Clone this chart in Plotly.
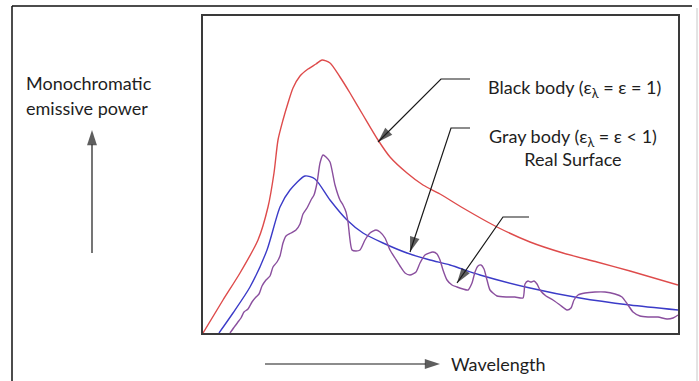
import plotly.graph_objects as go

# ---- spectral curves (wavelength in µm, emissive power in arbitrary units) ----
black_wl = [0, 0.40, 0.74, 1.10, 1.30, 1.42, 1.50, 1.60, 1.70, 1.80, 1.94, 2.10, 2.26, 2.38,
            2.54, 2.74, 2.94, 3.20, 3.50, 3.74, 4.08, 4.40, 4.74, 5.20, 5.88, 6.54, 7.20,
            7.88, 8.54, 9.50]
black_pw = [0, 0.66, 1.20, 1.86, 2.52, 3.20, 3.86, 4.26, 4.60, 4.90, 5.14, 5.28, 5.38, 5.46,
            5.40, 5.12, 4.80, 4.36, 3.86, 3.52, 3.20, 2.96, 2.78, 2.50, 2.12, 1.82, 1.60,
            1.42, 1.24, 0.96]

gray_wl = [0.32, 0.60, 0.94, 1.28, 1.54, 1.74, 2.04, 2.24, 2.54, 2.88, 3.20, 3.60, 4.08,
           4.54, 4.94, 5.54, 6.54, 7.54, 8.54, 9.50]
gray_pw = [0, 0.40, 0.92, 1.66, 2.52, 2.86, 3.14, 3.08, 2.66, 2.26, 2.00, 1.80, 1.60,
           1.46, 1.36, 1.16, 0.90, 0.70, 0.56, 0.46]

real_wl = [0.54, 0.64, 0.70, 0.76, 0.82, 0.90, 0.98, 1.06, 1.12, 1.18, 1.26, 1.34, 1.40,
           1.48, 1.54, 1.60, 1.66, 1.76, 1.86, 1.94, 2.00, 2.08, 2.16, 2.22, 2.28, 2.34,
           2.40, 2.46, 2.54, 2.64, 2.74, 2.80, 2.86, 2.90, 2.98, 3.06, 3.14, 3.24, 3.34,
           3.46, 3.54, 3.64, 3.74, 3.84, 3.94, 4.04, 4.14, 4.26, 4.34, 4.44, 4.60, 4.68,
           4.74, 4.80, 4.88, 4.98, 5.08, 5.20, 5.30, 5.38, 5.44, 5.50, 5.56, 5.62, 5.68,
           5.74, 5.88, 6.08, 6.24, 6.40, 6.44, 6.50, 6.56, 6.62, 6.68, 6.74, 6.86, 7.00,
           7.14, 7.28, 7.36, 7.42, 7.50, 7.64, 7.84, 8.04, 8.24, 8.38, 8.50, 8.60, 8.74,
           8.90, 9.10, 9.28, 9.40, 9.50]
real_pw = [0, 0.14, 0.22, 0.30, 0.42, 0.48, 0.62, 0.72, 0.78, 0.94, 1.06, 1.14, 1.32,
           1.42, 1.54, 1.80, 1.94, 2.00, 2.06, 2.18, 2.38, 2.50, 2.66, 2.76, 3.00, 3.40,
           3.56, 3.52, 3.42, 2.96, 2.66, 2.56, 2.42, 2.22, 1.66, 1.64, 1.66, 1.86, 2.00,
           2.06, 2.02, 1.90, 1.66, 1.50, 1.34, 1.20, 1.16, 1.22, 1.40, 1.56, 1.62, 1.58,
           1.46, 1.26, 1.06, 0.96, 0.92, 0.88, 0.86, 1.00, 1.22, 1.34, 1.36, 1.28, 1.06,
           0.86, 0.74, 0.72, 0.72, 0.70, 0.98, 1.04, 1.02, 1.04, 0.98, 0.86, 0.74, 0.66,
           0.56, 0.46, 0.50, 0.66, 0.76, 0.80, 0.82, 0.82, 0.78, 0.72, 0.56, 0.42, 0.34,
           0.32, 0.32, 0.28, 0.30, 0.36]

# ---- callout leader lines: elbow start, elbow corner, arrow tip (data units) ----
callout_start = [(5.34, 5.08), (5.34, 4.10), (6.52, 2.32)]
callout_corner = [(4.76, 5.08), (4.96, 4.10), (6.00, 2.32)]
callout_tip = [(3.50, 3.82), (4.14, 1.62), (5.08, 1.00)]

black_label = "Black body (ε<sub>λ</sub> = ε = 1)"
gray_label = "Gray body (ε<sub>λ</sub> = ε < 1)<br>Real Surface"
y_title_lines = ["Monochromatic", "emissive power"]
x_title = "Wavelength"

W, H = 699, 381
FONT = "Lato, 'Open Sans', sans-serif"
FONT_SIZE = 18
TEXT_COLOR = "#1e1e1e"
ARROW_COLOR = "#1a1a1a"


def fx(p):
    return p / W


def fy(p):
    return 1 - p / H


def arrow_trace(xs, ys, xaxis="x", yaxis="y"):
    """Polyline ending in a filled arrowhead pointing along the last segment."""
    n = len(xs)
    return go.Scatter(
        x=xs, y=ys, xaxis=xaxis, yaxis=yaxis, mode="lines+markers",
        line=dict(color=ARROW_COLOR, width=1.2),
        marker=dict(symbol=["circle"] * (n - 1) + ["arrow"], size=[0] * (n - 1) + [16],
                    angleref="previous", color=ARROW_COLOR, line=dict(width=0)),
        hoverinfo="skip", cliponaxis=False)


fig = go.Figure()

fig.add_trace(go.Scatter(x=black_wl, y=black_pw, mode="lines",
                         line=dict(color="#DE4B4B", width=1.4, shape="spline", smoothing=0.7)))
fig.add_trace(go.Scatter(x=gray_wl, y=gray_pw, mode="lines",
                         line=dict(color="#3B3BC8", width=1.4, shape="spline", smoothing=0.7)))
fig.add_trace(go.Scatter(x=real_wl, y=real_pw, mode="lines",
                         line=dict(color="#8A4F9E", width=1.4, shape="spline", smoothing=0.6)))

# callout leaders pointing at each curve
for s, c, t in zip(callout_start, callout_corner, callout_tip):
    fig.add_trace(arrow_trace([s[0], c[0], t[0]], [s[1], c[1], t[1]]))

# axis-direction arrows live on a full-page overlay measured in pixels from the top-left
fig.add_trace(arrow_trace([92, 92], [253, 130], "x2", "y2"))
fig.add_trace(arrow_trace([265, 440], [364, 364], "x2", "y2"))

annotations = [
    dict(xref="paper", yref="paper", x=fx(574), y=fy(88), text=black_label,
         showarrow=False, xanchor="center", yanchor="middle",
         font=dict(family=FONT, size=FONT_SIZE, color=TEXT_COLOR)),
    dict(xref="paper", yref="paper", x=fx(573), y=fy(147.5), text=gray_label, align="center",
         showarrow=False, xanchor="center", yanchor="middle",
         font=dict(family=FONT, size=FONT_SIZE, color=TEXT_COLOR)),
    dict(xref="paper", yref="paper", x=fx(449), y=fy(364), text=x_title,
         showarrow=False, xanchor="left", yanchor="middle",
         font=dict(family=FONT, size=FONT_SIZE, color=TEXT_COLOR)),
]
for i, line in enumerate(y_title_lines):
    annotations.append(dict(xref="paper", yref="paper", x=fx(24), y=fy(83 + 25 * i), text=line,
                            showarrow=False, xanchor="left", yanchor="middle",
                            font=dict(family=FONT, size=FONT_SIZE, color=TEXT_COLOR)))

# outer frame
shapes = [
    dict(type="line", xref="paper", yref="paper", x0=fx(12), y0=fy(6), x1=fx(12), y1=-0.05,
         line=dict(color="#111", width=1.5)),
    dict(type="line", xref="paper", yref="paper", x0=fx(12), y0=fy(6), x1=fx(692), y1=fy(6),
         line=dict(color="#111", width=1.5)),
    dict(type="line", xref="paper", yref="paper", x0=fx(697), y0=fy(8), x1=fx(697), y1=-0.05,
         line=dict(color="#c8c8c8", width=1)),
]

axis_common = dict(showgrid=False, zeroline=False, showticklabels=False, ticks="",
                   showline=True, mirror=True, linecolor="#3a3a3a", linewidth=1.6)
overlay_common = dict(visible=False, showgrid=False, zeroline=False, fixedrange=True)

fig.update_layout(
    width=W, height=H, autosize=False,
    margin=dict(l=0, r=0, t=0, b=0),
    paper_bgcolor="white", plot_bgcolor="rgba(0,0,0,0)",
    showlegend=False,
    xaxis=dict(domain=[fx(203), fx(678)], range=[0, 9.5], **axis_common),
    yaxis=dict(domain=[fy(333), fy(16)], range=[0, 6.34], **axis_common),
    xaxis2=dict(domain=[0, 1], range=[0, W], anchor="y2", **overlay_common),
    yaxis2=dict(domain=[0, 1], range=[H, 0], anchor="x2", **overlay_common),
    shapes=shapes,
    annotations=annotations,
)

fig.write_html("out.html")
